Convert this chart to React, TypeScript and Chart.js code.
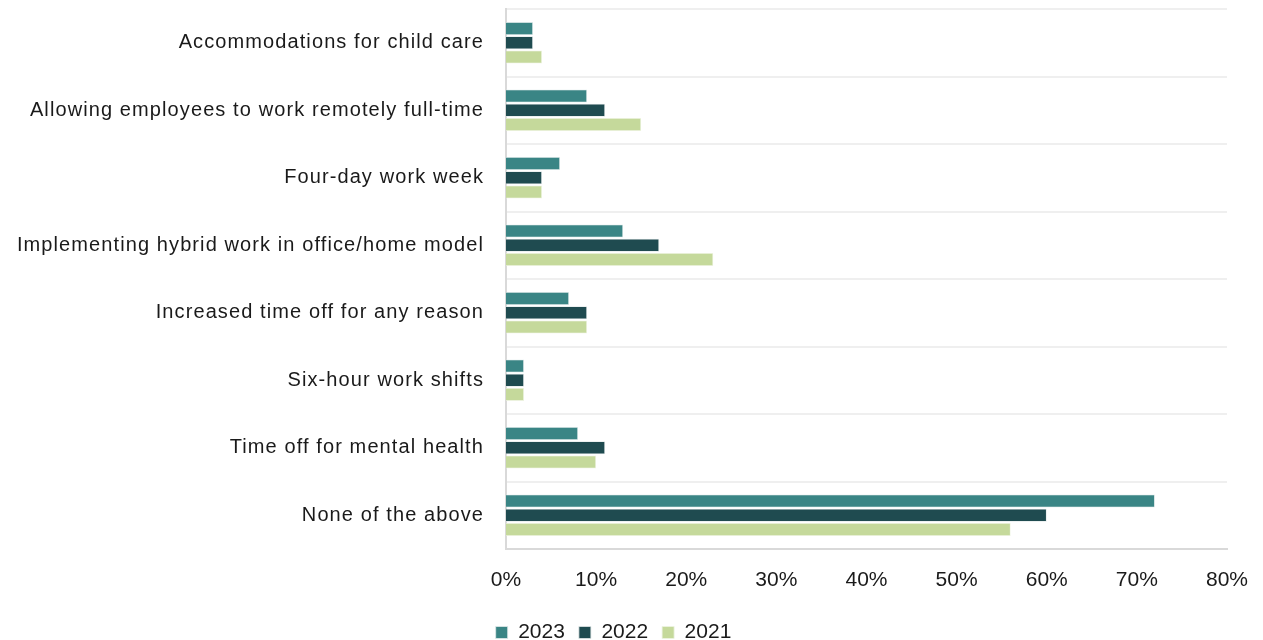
import React, { useEffect, useRef } from "react";
import { Chart, registerables } from "chart.js";

Chart.register(...registerables);

const categories = [
  "Accommodations for child care",
  "Allowing employees to work remotely full-time",
  "Four-day work week",
  "Implementing hybrid work in office/home model",
  "Increased time off for any reason",
  "Six-hour work shifts",
  "Time off for mental health",
  "None of the above",
];
const values2023 = [3, 9, 6, 13, 7, 2, 8, 72];
const values2022 = [3, 11, 4, 17, 9, 2, 11, 60];
const values2021 = [4, 15, 4, 23, 9, 2, 10, 56];
const xTicks = [0, 10, 20, 30, 40, 50, 60, 70, 80];

const FONT = "'Liberation Sans', Arial, sans-serif";

const ySpacingPlugin = {
  id: "ySpacing",
  afterUpdate(chart: any) {
    const y = chart.scales.y;
    if (y && !y._spacingPatched) {
      const orig = y.drawLabels.bind(y);
      y.drawLabels = (ca: any) => {
        const ctx = chart.ctx;
        ctx.save();
        (ctx as any).letterSpacing = "1.1px";
        orig(ca);
        ctx.restore();
      };
      y._spacingPatched = true;
    }
  },
};

export default function App() {
  const ref = useRef<HTMLCanvasElement | null>(null);
  useEffect(() => {
    if (!ref.current) return;
    const chart = new Chart(ref.current, {
      type: "bar",
      data: {
        labels: categories,
        datasets: [
          { label: "2023", data: values2023, backgroundColor: "#3a8585", borderColor: "#dfeaea", borderWidth: 0.8 },
          { label: "2022", data: values2022, backgroundColor: "#1f4b50", borderColor: "#dfe6e6", borderWidth: 0.8 },
          { label: "2021", data: values2021, backgroundColor: "#c5d99b", borderColor: "#eef4e2", borderWidth: 0.8 },
        ],
      },
      plugins: [ySpacingPlugin],
      options: {
        indexAxis: "y",
        animation: false,
        responsive: false,
        maintainAspectRatio: false,
        datasets: { bar: { categoryPercentage: 0.63, barPercentage: 0.92 } },
        layout: { padding: { top: 9, right: 36, left: 0, bottom: -13 } },
        scales: {
          x: {
            min: 0,
            max: 80,
            afterBuildTicks: (s: any) => {
              s.ticks = xTicks.map((v) => ({ value: v }));
            },
            afterFit: (s: any) => {
              s.height = 59;
              s.paddingLeft = 0;
              s.paddingRight = 0;
            },
            grid: { display: false, drawTicks: false },
            border: { display: true, color: "#d9d9d9", width: 2 },
            ticks: {
              padding: 19,
              color: "#1a1a1a",
              font: { family: FONT, size: 21 },
              callback: (v: any) => v + "%",
              maxRotation: 0,
            },
          },
          y: {
            afterFit: (s: any) => {
              s.width = 506;
              s.paddingTop = 0;
              s.paddingBottom = 0;
            },
            grid: {
              offset: true,
              drawTicks: false,
              color: "#efefef",
              lineWidth: 2,
            },
            border: { display: true, color: "#d9d9d9", width: 2 },
            ticks: {
              padding: 22,
              color: "#1a1a1a",
              font: { family: FONT, size: 20 },
            },
          },
        },
        plugins: {
          tooltip: { enabled: false },
          legend: {
            position: "bottom",
            align: "center",
            labels: {
              boxWidth: 12,
              boxHeight: 12,
              padding: 14,
              color: "#1a1a1a",
              font: { family: FONT, size: 21 },
            },
          },
        },
      },
    });
    return () => chart.destroy();
  }, []);
  return (
    <div style={{ position: "fixed", left: 0, top: 0, width: 1263, height: 640 }}>
      <canvas ref={ref} width={1263} height={640} style={{ width: 1263, height: 640 }} />
    </div>
  );
}
